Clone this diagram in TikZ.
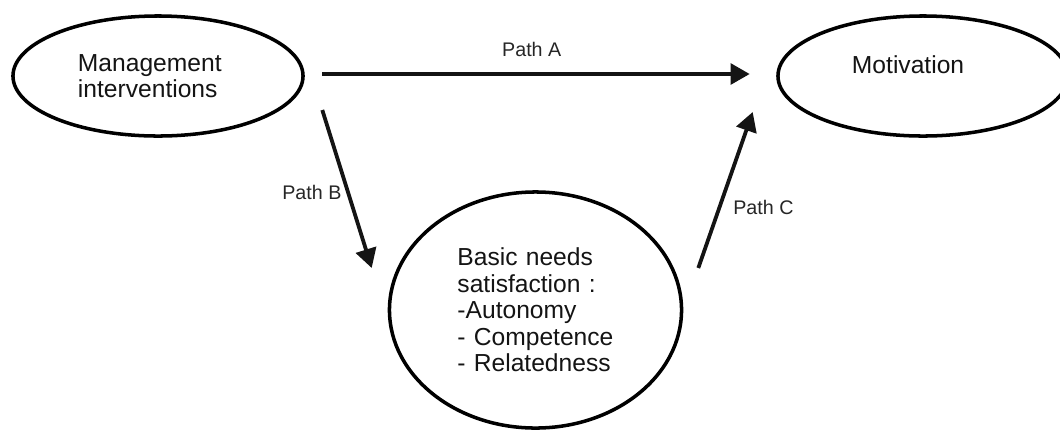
\documentclass[tikz,border=0pt]{standalone}
\usepackage{fontspec}
\setmainfont{Liberation Sans}
\usetikzlibrary{arrows.meta,shapes.geometric}

\begin{document}
\begin{tikzpicture}[
  x=0.025cm, y=-0.025cm,
  oval/.style={
    ellipse,
    draw=black,
    line width=2.5pt,
    align=left,
    inner sep=0pt,
    text=black!92,
    font=\fontsize{17.5}{18.8}\selectfont
  },
  arr/.style={
    -{Triangle[length=0.48cm, width=0.52cm]},
    line width=2.7pt,
    draw=black!92
  },
  pathlbl/.style={font=\fontsize{14}{16}\selectfont, text=black!85}
]
  \useasboundingbox (0,0) rectangle (1060,430);

  \node[oval, minimum width=7.25cm, minimum height=3cm, text width=4cm] (mgmt) at (158,76) {Management\\interventions};
  % text sits a bit high in the right oval
  \node[oval, minimum width=7.25cm, minimum height=3cm, text width=3.55cm, text depth=0.55cm] (motiv) at (923,76) {Motivation};
  \node[oval, minimum width=7.3cm, minimum height=5.9cm, text width=3.9cm] (needs) at (535.5,310) {Basic needs\\satisfaction :\\-Autonomy\\- Competence\\- Relatedness};

  \draw[arr] ([shift={(17.5,-2)}]mgmt.east) -- node[pathlbl, above=0.28cm, pos=0.49] {Path A} ([shift={(-26.5,-2)}]motiv.west);
  \draw[arr] ([shift={(17.5,34)}]mgmt.east) -- node[pathlbl, left, pos=0.52] {Path B} ([shift={(-16,-42)}]needs.west);
  \draw[arr] ([shift={(15,-42)}]needs.east) -- node[pathlbl, right=0.18cm, pos=0.39] {Path C} ([shift={(-23.5,36)}]motiv.west);
\end{tikzpicture}
\end{document}
